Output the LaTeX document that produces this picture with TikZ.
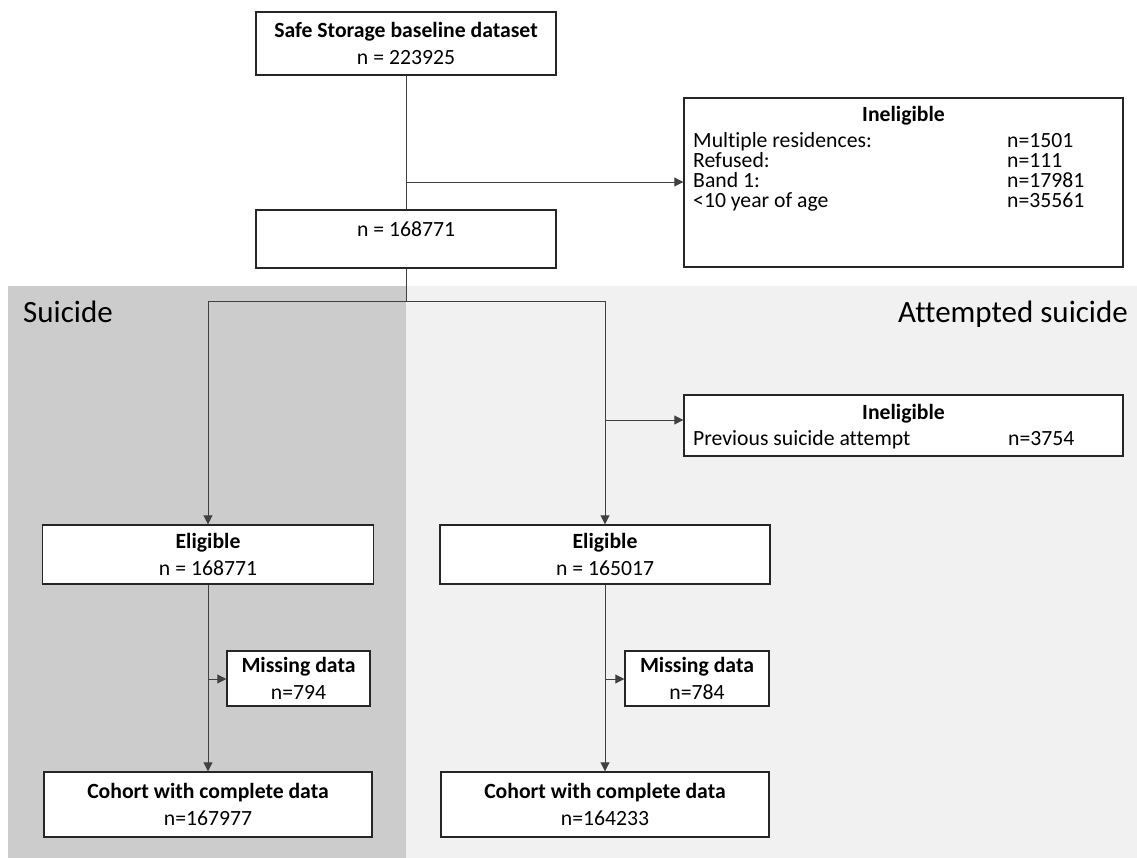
\documentclass[tikz,border=0pt]{standalone}
\usepackage{fontspec}
\setmainfont{Carlito}[Ligatures=NoCommon]
\usetikzlibrary{arrows.meta}
\definecolor{suigrey}{HTML}{CCCCCC}
\definecolor{attgrey}{HTML}{F1F1F1}
\newcommand{\bodyfont}{\fontsize{21.7}{26.5}\selectfont}
\newcommand{\headfont}{\fontsize{31}{37}\selectfont}
\tikzset{
  box/.style={draw=black!85, line width=1.4pt, fill=white, inner sep=0pt, align=center, font=\bodyfont},
  txt/.style={anchor=base west, font=\bodyfont, inner sep=0pt},
  conn/.style={draw=black!75, line width=0.9pt},
  arr/.style={conn, -{Triangle[length=9pt,width=9pt]}},
}
\begin{document}
\begin{tikzpicture}[x=1pt,y=-1pt]
\useasboundingbox (0,0) rectangle (1137,858);
% panels
\fill[attgrey] (8,286) rectangle (1137,858);
\fill[suigrey] (8,286) rectangle (406,858);
\node[anchor=base west, font=\headfont, inner sep=0pt] (suilab) at (23,323) {Suicide};
\node[anchor=base east, font=\headfont, inner sep=0pt] (attlab) at (1128,323) {Attempted suicide};

% whole dataset
\node[box, minimum width=300pt, minimum height=63pt] (base) at (406,43.5) {\textbf{Safe Storage baseline dataset}\\n = 223925};
\node[box, minimum width=300pt, minimum height=58pt, text depth=20pt] (all) at (406,239) {n = 168771};

% first exclusions
\node[box, minimum width=439pt, minimum height=169pt] (inel) at (903.5,182.5) {};
\node[anchor=base, font=\bodyfont\bfseries, inner sep=0pt] (inelhd) at (903.5,122) {Ineligible};
\foreach \why/\num [count=\i] in {Multiple residences:/n=1501, Refused:/n=111, Band 1:/n=17981, <10 year of age/n=35561} {
  \node[txt] (why\i) at (693,128+20*\i) {\why};
  \node[txt] (num\i) at (1007,128+20*\i) {\num};
}

% second exclusions
\node[box, minimum width=439pt, minimum height=61pt] (inelb) at (903.5,425.5) {};
\node[anchor=base, font=\bodyfont\bfseries, inner sep=0pt] (inelbhd) at (903.5,419) {Ineligible};
\node[txt] (prev) at (693,445) {Previous suicide attempt};
\node[txt] (prevnum) at (1008,445) {n=3754};

% suicide branch
\node[box, minimum width=331pt, minimum height=59pt] (eligA) at (208,554.5) {\textbf{Eligible}\\n = 168771};
\node[box, minimum width=143pt, minimum height=55pt] (missA) at (298.5,678.5) {\textbf{Missing data}\\n=794};
\node[box, minimum width=328pt, minimum height=65pt] (cohA) at (208,804.5) {\textbf{Cohort with complete data}\\n=167977};

% attempted suicide branch
\node[box, minimum width=330pt, minimum height=59pt] (eligB) at (605,554.5) {\textbf{Eligible}\\n = 165017};
\node[box, minimum width=144pt, minimum height=55pt] (missB) at (697,678.5) {\textbf{Missing data}\\n=784};
\node[box, minimum width=328pt, minimum height=65pt] (cohB) at (605,804.5) {\textbf{Cohort with complete data}\\n=164233};

% connectors
\coordinate (outA) at (406,182);
\coordinate (split) at (406,301);
\coordinate (outB) at (605,420);
\coordinate (lossA) at (208,679);
\coordinate (lossB) at (605,679);
\draw[conn] (base.south) -- (all.north);
\draw[arr] (outA) -- (outA -| inel.west);
\draw[conn] (all.south) -- (split);
\draw[arr] (split) -| (eligA.north);
\draw[arr] (split) -| (eligB.north);
\draw[arr] (outB) -- (outB -| inelb.west);
\draw[arr] (eligA.south) -- (cohA.north);
\draw[arr] (eligB.south) -- (cohB.north);
\draw[arr] (lossA) -- (lossA -| missA.west);
\draw[arr] (lossB) -- (lossB -| missB.west);
\end{tikzpicture}
\end{document}
